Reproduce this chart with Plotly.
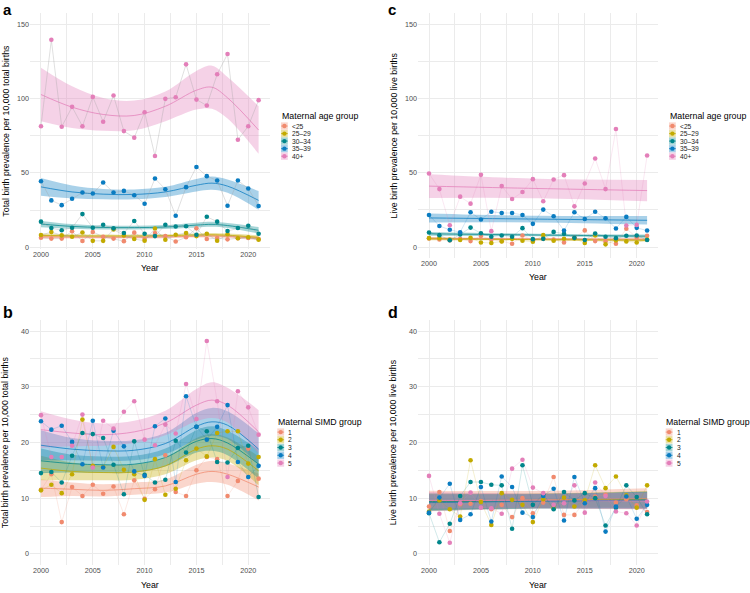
import plotly.graph_objects as go

W, H = 750, 593

YEARS = list(range(2000, 2022))
AGE_GROUPS = ["<25", "25–29", "30–34", "35–39", "40+"]
SIMD_GROUPS = ["1", "2", "3", "4", "5"]
COLORS = ["#F08A6E", "#C2AA00", "#00868B", "#0A7CC1", "#E37FB9"]
X_TICKS = [2000, 2005, 2010, 2015, 2020]

# ---------------- panel a : total births, by maternal age ----------------
a_lt25 = [6.4, 5.8, 5.8, 10.7, 4.2, 10.3, 7.0, 5.8, 4.1, 9.8, 5.5, 9.5, 7.5, 3.9, 6.7, 12.7, 5.5, 6.2, 5.3, 6.0, 6.2, 5.5]
a_25_29 = [8.2, 10.2, 8.0, 7.1, 9.9, 4.3, 4.3, 12.0, 7.9, 5.5, 4.4, 12.6, 5.0, 8.4, 9.6, 7.5, 9.1, 4.4, 8.7, 6.0, 6.7, 5.1]
a_30_34 = [17.2, 12.9, 11.4, 13.1, 22.3, 13.1, 15.1, 12.7, 9.6, 17.6, 9.1, 7.5, 15.1, 14.0, 14.1, 8.4, 20.5, 17.2, 10.9, 12.9, 14.5, 9.1]
a_35_39 = [44.4, 31.5, 28.3, 32.6, 36.8, 36.1, 43.5, 36.8, 37.9, 35.0, 29.2, 46.2, 39.0, 21.2, 40.4, 54.0, 47.8, 44.9, 27.9, 44.9, 39.5, 27.7]
a_40p = [81.4, 139.5, 81.0, 94.4, 81.4, 101.1, 84.4, 102.0, 78.1, 73.7, 90.8, 61.4, 99.8, 100.9, 123.0, 99.3, 95.3, 116.3, 129.9, 72.3, 81.4, 98.9]

a_fit_years = [2000, 2003, 2006, 2009, 2012, 2015, 2016.5, 2018, 2021]
a_fit_lt25 = [7.0, 6.8, 6.7, 6.7, 6.9, 7.4, 7.6, 7.3, 6.0]
a_hw_lt25 = [1.2, 0.9, 0.8, 0.8, 0.8, 0.9, 1.0, 1.0, 1.3]
a_fit_25_29 = [8.0, 7.7, 7.6, 7.6, 7.8, 8.3, 8.4, 8.1, 6.6]
a_hw_25_29 = [1.3, 1.0, 0.9, 0.9, 0.9, 1.0, 1.1, 1.1, 1.4]
a_fit_30_34 = [15.6, 14.0, 13.3, 13.2, 13.6, 14.9, 15.4, 14.6, 11.4]
a_hw_30_34 = [2.1, 1.6, 1.3, 1.2, 1.3, 1.6, 1.7, 1.7, 2.2]
a_fit_35_39 = [40.6, 37.2, 35.7, 35.5, 37.2, 41.7, 43.1, 41.1, 31.5]
a_hw_35_39 = [5.9, 4.3, 3.5, 3.3, 3.4, 4.2, 4.5, 4.5, 6.3]
a_fit_40p = [102.7, 94.2, 89.3, 88.6, 94.8, 105.6, 107.6, 100.5, 78.8]
a_hw_40p = [18.0, 14.0, 11.0, 10.0, 10.0, 13.0, 14.5, 14.0, 16.0]

# ---------------- panel c : live births, by maternal age ----------------
c_lt25 = [5.8, 5.1, 4.5, 5.5, 4.0, 7.4, 5.0, 4.0, 2.2, 7.8, 4.5, 5.6, 5.0, 3.1, 6.2, 11.2, 4.0, 3.8, 2.2, 12.3, 6.5, 7.6]
c_25_29 = [6.0, 6.0, 5.1, 4.7, 6.2, 3.1, 2.7, 3.8, 5.5, 4.2, 3.6, 8.0, 4.2, 5.6, 5.8, 2.7, 7.8, 1.8, 4.5, 3.8, 3.1, 5.0]
c_30_34 = [9.8, 8.0, 4.6, 8.4, 13.1, 9.3, 6.9, 7.8, 6.9, 12.7, 5.3, 5.5, 10.2, 8.9, 6.2, 4.7, 9.1, 6.9, 6.0, 7.6, 7.8, 4.7]
c_35_39 = [21.6, 14.2, 11.6, 10.0, 23.4, 18.5, 23.8, 22.9, 22.9, 21.6, 15.6, 25.2, 20.7, 11.1, 23.4, 18.9, 23.8, 19.4, 12.5, 20.3, 12.9, 11.1]
c_40p = [49.5, 39.0, 14.7, 33.9, 29.2, 48.6, 10.7, 41.0, 32.3, 37.0, 45.7, 30.8, 45.5, 48.4, 27.4, 42.8, 59.6, 39.0, 79.4, 14.5, 14.9, 61.6]

c_fit_years = [2000, 2010.5, 2021]
c_fit_lt25 = [5.9, 5.5, 5.2]
c_hw_lt25 = [0.9, 0.6, 0.9]
c_fit_25_29 = [5.5, 5.0, 4.6]
c_hw_25_29 = [0.9, 0.6, 0.9]
c_fit_30_34 = [8.9, 8.1, 7.3]
c_hw_30_34 = [1.3, 0.9, 1.2]
c_fit_35_39 = [19.6, 18.8, 18.0]
c_hw_35_39 = [3.0, 2.2, 2.9]
c_fit_40p = [41.0, 39.4, 38.0]
c_hw_40p = [8.0, 6.5, 7.2]

# ---------------- panel b : total births, by SIMD ----------------
b_simd1 = [11.5, 14.3, 5.7, 12.0, 10.4, 12.4, 10.8, 12.1, 7.1, 13.2, 9.9, 11.6, 17.7, 11.1, 10.4, 15.0, 17.4, 17.0, 10.4, 13.1, 18.9, 13.5]
b_simd2 = [11.4, 12.4, 10.9, 14.3, 24.1, 15.8, 15.6, 19.2, 15.1, 14.3, 9.7, 17.0, 10.6, 11.7, 16.8, 18.9, 17.5, 21.7, 22.0, 22.0, 16.2, 17.4]
b_simd3 = [14.5, 14.7, 12.8, 17.6, 21.7, 21.5, 20.8, 16.0, 10.7, 20.2, 14.2, 12.8, 13.3, 20.3, 18.2, 22.8, 22.0, 16.5, 16.4, 19.0, 19.4, 10.2]
b_simd4 = [23.8, 22.3, 23.0, 20.1, 16.1, 23.9, 15.5, 22.1, 19.3, 14.8, 14.0, 22.9, 24.3, 12.9, 28.3, 22.8, 20.5, 22.8, 26.7, 16.5, 13.8, 15.8]
b_simd5 = [24.9, 17.4, 17.4, 19.4, 25.0, 15.5, 23.9, 22.5, 25.5, 27.4, 20.5, 19.5, 23.2, 21.6, 30.5, 24.2, 38.2, 27.4, 13.8, 29.2, 26.3, 21.4]

b_fit_years = [2000, 2003, 2006, 2009, 2012, 2015, 2016.5, 2018, 2021]
b_fit_simd1 = [11.8, 11.6, 11.4, 11.7, 12.2, 14.3, 14.8, 14.3, 12.0]
b_hw_simd1 = [1.6, 1.2, 1.1, 1.1, 1.2, 1.7, 1.9, 1.9, 2.4]
b_fit_simd2 = [15.4, 14.8, 14.6, 14.7, 15.8, 18.8, 19.4, 18.8, 14.9]
b_hw_simd2 = [2.2, 1.6, 1.4, 1.4, 1.5, 2.0, 2.1, 2.1, 2.6]
b_fit_simd3 = [16.7, 16.2, 16.0, 16.1, 17.3, 20.2, 20.7, 19.9, 16.1]
b_hw_simd3 = [2.2, 1.6, 1.5, 1.5, 1.6, 2.0, 2.2, 2.2, 2.6]
b_fit_simd4 = [19.5, 18.8, 18.5, 18.6, 19.8, 22.9, 23.7, 23.1, 18.8]
b_hw_simd4 = [2.7, 2.0, 1.8, 1.8, 1.9, 2.4, 2.5, 2.5, 2.8]
b_fit_simd5 = [22.3, 21.7, 21.4, 21.9, 23.5, 26.7, 27.6, 26.7, 21.9]
b_hw_simd5 = [3.3, 2.4, 2.0, 2.0, 2.2, 2.9, 3.2, 3.1, 3.9]

# ---------------- panel d : live births, by SIMD ----------------
d_simd1 = [8.5, 11.1, 4.1, 8.9, 9.0, 9.5, 8.0, 8.8, 6.6, 10.0, 7.3, 9.2, 13.8, 7.0, 7.0, 9.4, 10.3, 10.6, 9.2, 9.8, 8.7, 7.5]
d_simd2 = [7.6, 9.6, 8.0, 6.7, 16.8, 9.3, 5.2, 10.9, 9.7, 8.8, 5.7, 9.8, 8.2, 10.1, 8.5, 9.6, 15.9, 11.8, 13.9, 10.5, 8.3, 12.3]
d_simd3 = [7.3, 2.1, 5.4, 10.4, 12.9, 12.9, 12.4, 12.3, 4.5, 15.9, 8.8, 10.7, 8.0, 11.1, 9.6, 10.9, 10.0, 5.1, 8.3, 12.3, 10.2, 7.1]
d_simd4 = [7.4, 10.1, 12.6, 6.1, 7.1, 12.0, 5.8, 13.9, 12.0, 7.4, 6.6, 10.4, 11.7, 6.0, 13.8, 9.1, 11.8, 4.0, 8.5, 10.3, 6.3, 8.8]
d_simd5 = [14.0, 7.2, 2.0, 9.1, 11.0, 8.3, 8.2, 7.2, 15.3, 16.9, 11.9, 10.9, 8.8, 9.1, 12.3, 7.4, 12.8, 10.4, 7.6, 7.3, 5.1, 9.4]

d_fit_years = [2000, 2010.5, 2021]
d_fit_simd1 = [9.5, 9.7, 9.9]
d_hw_simd1 = [1.85, 1.6, 1.9]
d_fit_simd2 = [9.3, 9.55, 9.8]
d_hw_simd2 = [1.5, 1.3, 1.5]
d_fit_simd3 = [9.4, 9.5, 9.6]
d_hw_simd3 = [1.5, 1.3, 1.5]
d_fit_simd4 = [9.2, 9.45, 9.7]
d_hw_simd4 = [1.5, 1.3, 1.5]
d_fit_simd5 = [9.6, 9.55, 9.5]
d_hw_simd5 = [1.5, 1.3, 1.5]

# ---------------- layout constants (pixels) ----------------
FONT = "Liberation Sans, Arial, sans-serif"
RIBBON_ALPHA = 0.35
LEFT_X = (30.1, 269.5)
RIGHT_X = (418.1, 658.0)
PANELS = {
    "a": dict(xa="x", ya="y", xdom=LEFT_X, ydom=(13.1, 250.0), yr=[-1.0, 157.5], dy=50,
              pts=[a_lt25, a_25_29, a_30_34, a_35_39, a_40p], fy=a_fit_years,
              fit=[a_fit_lt25, a_fit_25_29, a_fit_30_34, a_fit_35_39, a_fit_40p],
              hw=[a_hw_lt25, a_hw_25_29, a_hw_30_34, a_hw_35_39, a_hw_40p], grey=True),
    "c": dict(xa="x2", ya="y2", xdom=RIGHT_X, ydom=(13.1, 259.5), yr=[-7.5, 157.5], dy=50,
              pts=[c_lt25, c_25_29, c_30_34, c_35_39, c_40p], fy=c_fit_years,
              fit=[c_fit_lt25, c_fit_25_29, c_fit_30_34, c_fit_35_39, c_fit_40p],
              hw=[c_hw_lt25, c_hw_25_29, c_hw_30_34, c_hw_35_39, c_hw_40p], grey=False),
    "b": dict(xa="x3", ya="y3", xdom=LEFT_X, ydom=(321.5, 567.9), yr=[-2, 42], dy=10,
              pts=[b_simd1, b_simd2, b_simd3, b_simd4, b_simd5], fy=b_fit_years,
              fit=[b_fit_simd1, b_fit_simd2, b_fit_simd3, b_fit_simd4, b_fit_simd5],
              hw=[b_hw_simd1, b_hw_simd2, b_hw_simd3, b_hw_simd4, b_hw_simd5], grey=False),
    "d": dict(xa="x4", ya="y4", xdom=RIGHT_X, ydom=(321.5, 567.9), yr=[-2, 42], dy=10,
              pts=[d_simd1, d_simd2, d_simd3, d_simd4, d_simd5], fy=d_fit_years,
              fit=[d_fit_simd1, d_fit_simd2, d_fit_simd3, d_fit_simd4, d_fit_simd5],
              hw=[d_hw_simd1, d_hw_simd2, d_hw_simd3, d_hw_simd4, d_hw_simd5], grey=False),
}


def rgba(hexc, a):
    h = hexc.lstrip("#")
    r, g, b = int(h[0:2], 16), int(h[2:4], 16), int(h[4:6], 16)
    return f"rgba({r},{g},{b},{a})"


def px(x):
    return x / W


def py(y):
    return 1 - y / H


fig = go.Figure()

for key, p in PANELS.items():
    xa, ya = p["xa"], p["ya"]
    # confidence ribbons
    for i, col in enumerate(COLORS):
        lo = [c - h for c, h in zip(p["fit"][i], p["hw"][i])]
        hi = [c + h for c, h in zip(p["fit"][i], p["hw"][i])]
        fig.add_trace(go.Scatter(x=p["fy"], y=lo, mode="lines", line=dict(width=0, shape="spline", color=rgba(col, 0)),
                                 xaxis=xa, yaxis=ya, showlegend=False, hoverinfo="skip"))
        fig.add_trace(go.Scatter(x=p["fy"], y=hi, mode="lines", line=dict(width=0, shape="spline", color=rgba(col, 0)),
                                 fill="tonexty", fillcolor=rgba(col, RIBBON_ALPHA),
                                 xaxis=xa, yaxis=ya, showlegend=False, hoverinfo="skip"))
    # fitted lines
    for i, col in enumerate(COLORS):
        fig.add_trace(go.Scatter(x=p["fy"], y=p["fit"][i], mode="lines",
                                 line=dict(width=0.9, shape="spline", color=rgba(col, 0.85)),
                                 xaxis=xa, yaxis=ya, showlegend=False, hoverinfo="skip"))
    # connecting lines
    for i, col in enumerate(COLORS):
        lc = "rgba(160,160,160,0.55)" if p["grey"] else rgba(col, 0.3)
        fig.add_trace(go.Scatter(x=YEARS, y=p["pts"][i], mode="lines", line=dict(width=0.6, color=lc),
                                 xaxis=xa, yaxis=ya, showlegend=False, hoverinfo="skip"))
    # points
    for i, col in enumerate(COLORS):
        fig.add_trace(go.Scatter(x=YEARS, y=p["pts"][i], mode="markers",
                                 marker=dict(size=4.6, color=col, line=dict(width=0)),
                                 xaxis=xa, yaxis=ya, showlegend=False))

axis_common = dict(showline=False, zeroline=False, ticks="", showgrid=True,
                   gridcolor="#EBEBEB", gridwidth=0.9,
                   tickfont=dict(family=FONT, size=7.2, color="#4D4D4D"))
layout = dict(width=W, height=H, margin=dict(l=0, r=0, t=0, b=0),
              paper_bgcolor="white", plot_bgcolor="white", showlegend=False,
              font=dict(family=FONT))
for key, p in PANELS.items():
    xn = "xaxis" + p["xa"][1:]
    yn = "yaxis" + p["ya"][1:]
    layout[xn] = dict(axis_common, domain=[px(p["xdom"][0]), px(p["xdom"][1])],
                      range=[1998.95, 2022.05], tickmode="array", tickvals=X_TICKS,
                      minor=dict(dtick=2.5, tick0=2000, showgrid=True, gridcolor="#EBEBEB", gridwidth=0.5),
                      anchor=p["ya"])
    layout[yn] = dict(axis_common, domain=[py(p["ydom"][1]), py(p["ydom"][0])],
                      range=p["yr"], tickmode="linear", tick0=0, dtick=p["dy"],
                      minor=dict(dtick=p["dy"] / 2, tick0=0, showgrid=True, gridcolor="#EBEBEB", gridwidth=0.5),
                      anchor=p["xa"])
fig.update_layout(**layout)

annotations = []
shapes = []


def text(x, y, s, size, color="black", xanchor="center", yanchor="middle", angle=0, bold=False):
    annotations.append(dict(x=px(x), y=py(y), xref="paper", yref="paper", text=f"<b>{s}</b>" if bold else s,
                            showarrow=False, xanchor=xanchor, yanchor=yanchor, textangle=angle,
                            font=dict(family=FONT, size=size, color=color), borderpad=0))


# panel letters
text(2.0, 0.5, "a", 15, xanchor="left", yanchor="top", bold=True)
text(387.0, 0.5, "c", 15, xanchor="left", yanchor="top", bold=True)
text(2.0, 314.5, "b", 16, xanchor="left", bold=True)
text(387.0, 314.5, "d", 16, xanchor="left", bold=True)

# axis titles
TOT = "Total birth prevalence per 10,000 total births"
LIVE = "Live birth prevalence per 10,000 live births"
text(5.8, 131.5, TOT, 8.8, angle=-90)
text(393.8, 136.3, LIVE, 8.8, angle=-90)
text(5.8, 444.7, TOT, 8.8, angle=-90)
text(393.8, 444.7, LIVE, 8.8, angle=-90)
text(149.8, 269.3, "Year", 8.8)
text(538.0, 278.3, "Year", 8.8)
text(149.8, 587.7, "Year", 8.8)
text(538.0, 587.7, "Year", 8.8)


def legend(x0, ytitle, yitems, title, labels, label_dx):
    text(x0 - 0.5, ytitle, title, 8.8, xanchor="left")
    for yi, lab, col in zip(yitems, labels, COLORS):
        shapes.append(dict(type="rect", xref="paper", yref="paper", x0=px(x0), x1=px(x0 + 6.8),
                           y0=py(yi + 3.7), y1=py(yi - 3.7), fillcolor=rgba(col, RIBBON_ALPHA), line=dict(width=0)))
        shapes.append(dict(type="line", xref="paper", yref="paper", x0=px(x0), x1=px(x0 + 6.8),
                           y0=py(yi), y1=py(yi), line=dict(color=col, width=0.8)))
        shapes.append(dict(type="circle", xref="paper", yref="paper", x0=px(x0 + 3.4 - 2.2), x1=px(x0 + 3.4 + 2.2),
                           y0=py(yi + 2.2), y1=py(yi - 2.2), fillcolor=col, line=dict(width=0)))
        text(x0 + label_dx, yi, lab, 6.7, color="#1a1a1a", xanchor="left")


AGE_ITEMS_Y = [126.7, 134.3, 141.8, 149.4, 157.0]
SIMD_ITEMS_Y = [434.3, 442.0, 449.8, 457.6, 465.4]
legend(281.0, 116.7, AGE_ITEMS_Y, "Maternal age group", AGE_GROUPS, 9.5)
legend(669.0, 116.7, AGE_ITEMS_Y, "Maternal age group", AGE_GROUPS, 9.5)
legend(277.3, 424.3, SIMD_ITEMS_Y, "Maternal SIMD group", SIMD_GROUPS, 9.8)
legend(665.7, 424.3, SIMD_ITEMS_Y, "Maternal SIMD group", SIMD_GROUPS, 9.8)

fig.update_layout(annotations=annotations, shapes=shapes)
fig.write_html("out.html")
